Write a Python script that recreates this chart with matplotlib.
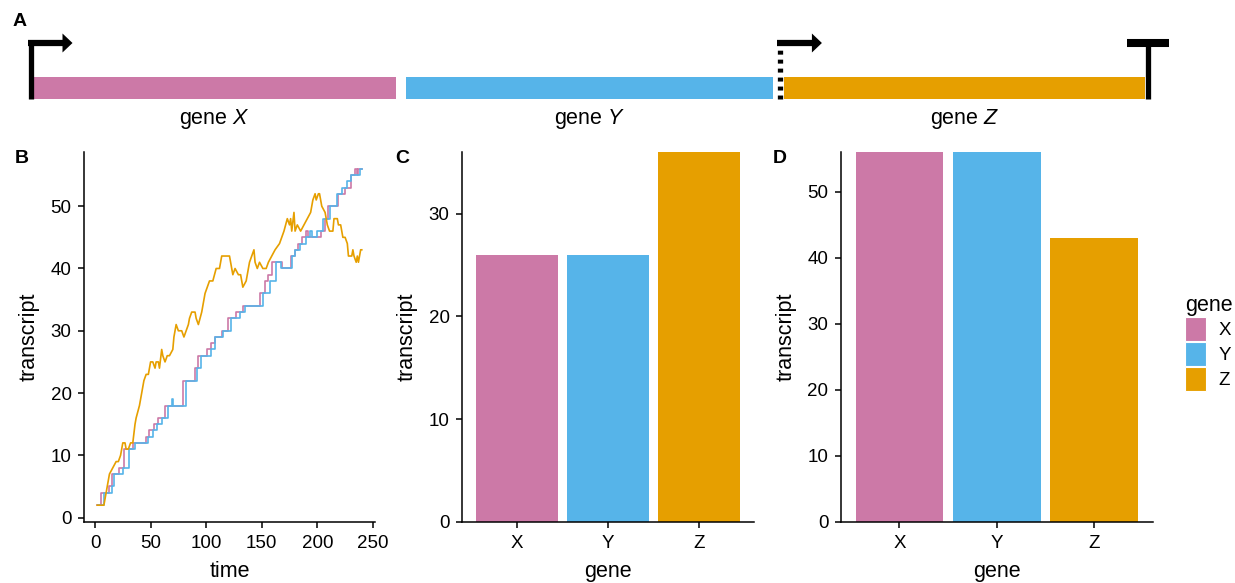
import numpy as np
import matplotlib.pyplot as plt
from matplotlib.patches import Patch

plt.rcParams['font.family'] = ['Liberation Sans', 'DejaVu Sans']
plt.rcParams['mathtext.fontset'] = 'custom'
plt.rcParams['mathtext.rm'] = 'Liberation Sans'
plt.rcParams['mathtext.it'] = 'Liberation Sans:italic'

# данные
genes = ['X', 'Y', 'Z']
colors = ['#CC79A7', '#56B4E9', '#E69F00']

# схема оперона (условные единицы)
gene_start = [0.0, 1.006, 2.027]
gene_end = [0.979, 1.996, 3.0]

# панель B: ступенчатые траектории (время, число транскриптов)
x_time = [2, 5, 13, 15, 22, 26, 34, 46, 49, 53, 57, 63, 79, 90, 93, 101, 104, 108,
          114, 120, 127, 133, 148, 153, 156, 159, 168, 176, 180, 183, 186, 190, 192,
          203, 207, 210, 219, 225, 230, 234, 236, 237, 240]
x_count = [2, 4, 5, 7, 8, 11, 12, 13, 14, 15, 16, 18, 22, 24, 26, 27, 28, 29,
           30, 32, 33, 34, 36, 38, 39, 41, 40, 42, 43, 44, 45, 46, 45,
           46, 48, 50, 52, 53, 55, 56, 55, 56, 56]

y_time = [3, 8, 15, 17, 25, 31, 36, 48, 52, 56, 60, 66, 69, 70, 82, 92, 95, 104,
          108, 115, 122, 130, 135, 151, 157, 163, 167, 177, 180, 184, 190, 193,
          195, 200, 205, 211, 218, 222, 227, 230, 238, 240]
y_count = [2, 4, 5, 7, 8, 11, 12, 13, 14, 15, 16, 18, 19, 18, 22, 24, 26, 27,
           29, 30, 32, 33, 34, 36, 38, 41, 40, 42, 43, 44, 45, 46,
           45, 46, 48, 50, 52, 53, 54, 55, 56, 56]

z_time = [2, 8, 10, 13, 16, 19, 21, 23, 25, 27, 28, 30, 32, 34, 36, 37, 40, 42, 44,
          46, 48, 50, 52, 54, 55, 57, 58, 60, 61, 63, 65, 67, 70, 71, 73, 75, 76,
          78, 80, 82, 84, 85, 87, 90, 91, 93, 96, 99, 101, 103, 105, 106, 109, 112,
          114, 121, 123, 124, 126, 129, 131, 133, 136, 139, 141, 143, 144, 146, 148,
          151, 154, 156, 159, 162, 166, 168, 170, 173, 175, 176, 177, 179, 180, 182,
          185, 188, 191, 194, 196, 198, 199, 201, 202, 204, 207, 209, 211, 214, 215,
          218, 219, 221, 223, 225, 227, 228, 231, 232, 233, 235, 236, 237, 239, 240]
z_count = [2, 2, 4, 7, 8, 9, 9, 10, 12, 12, 11, 11, 12, 12, 15, 16, 18, 20, 22,
           23, 23, 25, 25, 24, 25, 25, 24, 27, 26, 25, 26, 26, 27, 29, 31, 30, 30,
           30, 29, 30, 31, 32, 33, 33, 32, 31, 33, 36, 37, 38, 38, 38, 40, 40,
           42, 42, 40, 39, 40, 39, 39, 37, 38, 41, 42, 43, 41, 40, 41,
           40, 40, 41, 42, 43, 44, 45, 46, 48, 47, 48, 46, 49, 46, 47,
           46, 47, 48, 49, 51, 52, 51, 52, 52, 50, 49, 47, 46, 46, 48,
           48, 47, 47, 45, 45, 44, 42, 42, 43, 42, 41, 42, 41, 43, 43]

# панель C и D: столбцы
count_c = [26, 26, 36]
count_d = [56, 56, 43]

W, H = 1235, 583
fig = plt.figure(figsize=(W / 100, H / 100), dpi=100)

TICK = 13.5
TITLE = 15.5


def px_axes(left, right, top, bottom):
    return fig.add_axes([left / W, 1 - bottom / H, (right - left) / W, (bottom - top) / H])


def style(ax):
    for s in ['top', 'right']:
        ax.spines[s].set_visible(False)
    for s in ['left', 'bottom']:
        ax.spines[s].set_linewidth(1.1)
    ax.tick_params(labelsize=TICK, width=1.1, length=4, pad=5, color='black',
                   labelcolor='black')


# ---- панель A ----
unit = 370.7  # пикселей на единицу гена
axA = fig.add_axes([0, 1 - 140 / H, 1, 140 / H])
axA.set_xlim(-33 / unit, (W - 33) / unit)
axA.set_ylim(140, 0)
axA.axis('off')
for s, e, c, g in zip(gene_start, gene_end, colors, genes):
    axA.barh(88, e - s, left=s, height=22, color=c)
    axA.text((s + e) / 2, 119, 'gene $\\it{' + g + '}$', ha='center', va='center',
             fontsize=TITLE)

p = 1 / unit


def promoter(x0, dotted=False):
    kw = dict(color='black', lw=3.8, solid_capstyle='butt')
    if dotted:
        axA.plot([x0, x0], [99, 46], dashes=(0.75, 0.95), **kw)
    else:
        axA.plot([x0, x0], [99, 43], **kw)
    axA.plot([x0 - 2.5 * p, x0 + 33 * p], [43, 43], color='black', lw=4.5,
             solid_capstyle='butt')
    axA.fill([x0 + 32 * p, x0 + 42 * p, x0 + 32 * p], [33.5, 43, 52.5],
             color='black', lw=0)


promoter(gene_start[0] - 2.5 * p)
promoter(gene_start[2] - 4.5 * p, dotted=True)
xt = gene_end[2] + 2.5 * p
axA.plot([xt, xt], [99, 43], color='black', lw=3.8, solid_capstyle='butt')
axA.plot([xt - 21 * p, xt + 21 * p], [43, 43], color='black', lw=5.8,
         solid_capstyle='butt')

# ---- панель B ----
axB = px_axes(84, 375, 152, 522)
axB.plot(x_time, x_count, color=colors[0], lw=1.2, drawstyle='steps-post')
axB.plot(y_time, y_count, color=colors[1], lw=1.2, drawstyle='steps-post')
axB.plot(z_time, z_count, color=colors[2], lw=1.2)
axB.set_xlim(-9.9, 251.9)
axB.set_ylim(-0.7, 58.7)
axB.set_xticks([0, 50, 100, 150, 200, 250])
axB.set_yticks([0, 10, 20, 30, 40, 50])
axB.set_xlabel('time', fontsize=TITLE, labelpad=7)
axB.set_ylabel('transcript', fontsize=TITLE, labelpad=8)
style(axB)

# ---- панель C ----
axC = px_axes(462, 753.5, 152, 522)
axC.bar(range(3), count_c, width=0.9, color=colors)
axC.set_xlim(-0.6, 2.6)
axC.set_ylim(0, 36)
axC.set_xticks(range(3))
axC.set_xticklabels(genes)
axC.set_yticks([0, 10, 20, 30])
axC.set_xlabel('gene', fontsize=TITLE, labelpad=7)
axC.set_ylabel('transcript', fontsize=TITLE, labelpad=8)
style(axC)

# ---- панель D ----
axD = px_axes(841, 1152.5, 152, 522)
bars = axD.bar(range(3), count_d, width=0.9, color=colors)
axD.set_xlim(-0.6, 2.6)
axD.set_ylim(0, 56)
axD.set_xticks(range(3))
axD.set_xticklabels(genes)
axD.set_yticks([0, 10, 20, 30, 40, 50])
axD.set_xlabel('gene', fontsize=TITLE, labelpad=7)
axD.set_ylabel('transcript', fontsize=TITLE, labelpad=8)
style(axD)

handles = [Patch(facecolor=c, edgecolor='white', lw=0.8) for c in colors]
leg = fig.legend(handles, genes, title='gene', loc='upper left',
                 bbox_to_anchor=(1185 / W, 1 - 295 / H), frameon=False,
                 fontsize=TICK, title_fontsize=TITLE, handlelength=1.13,
                 handleheight=1.6, labelspacing=0.05, handletextpad=0.65,
                 borderaxespad=0, borderpad=0)
leg._legend_box.align = 'left'

# подписи панелей
for lab, x, y in [('A', 20, 21), ('B', 22, 158), ('C', 402, 158), ('D', 780, 158)]:
    fig.text(x / W, 1 - y / H, lab, fontsize=14, fontweight='bold', ha='center',
             va='center')

fig.savefig('out.png', dpi=100)
